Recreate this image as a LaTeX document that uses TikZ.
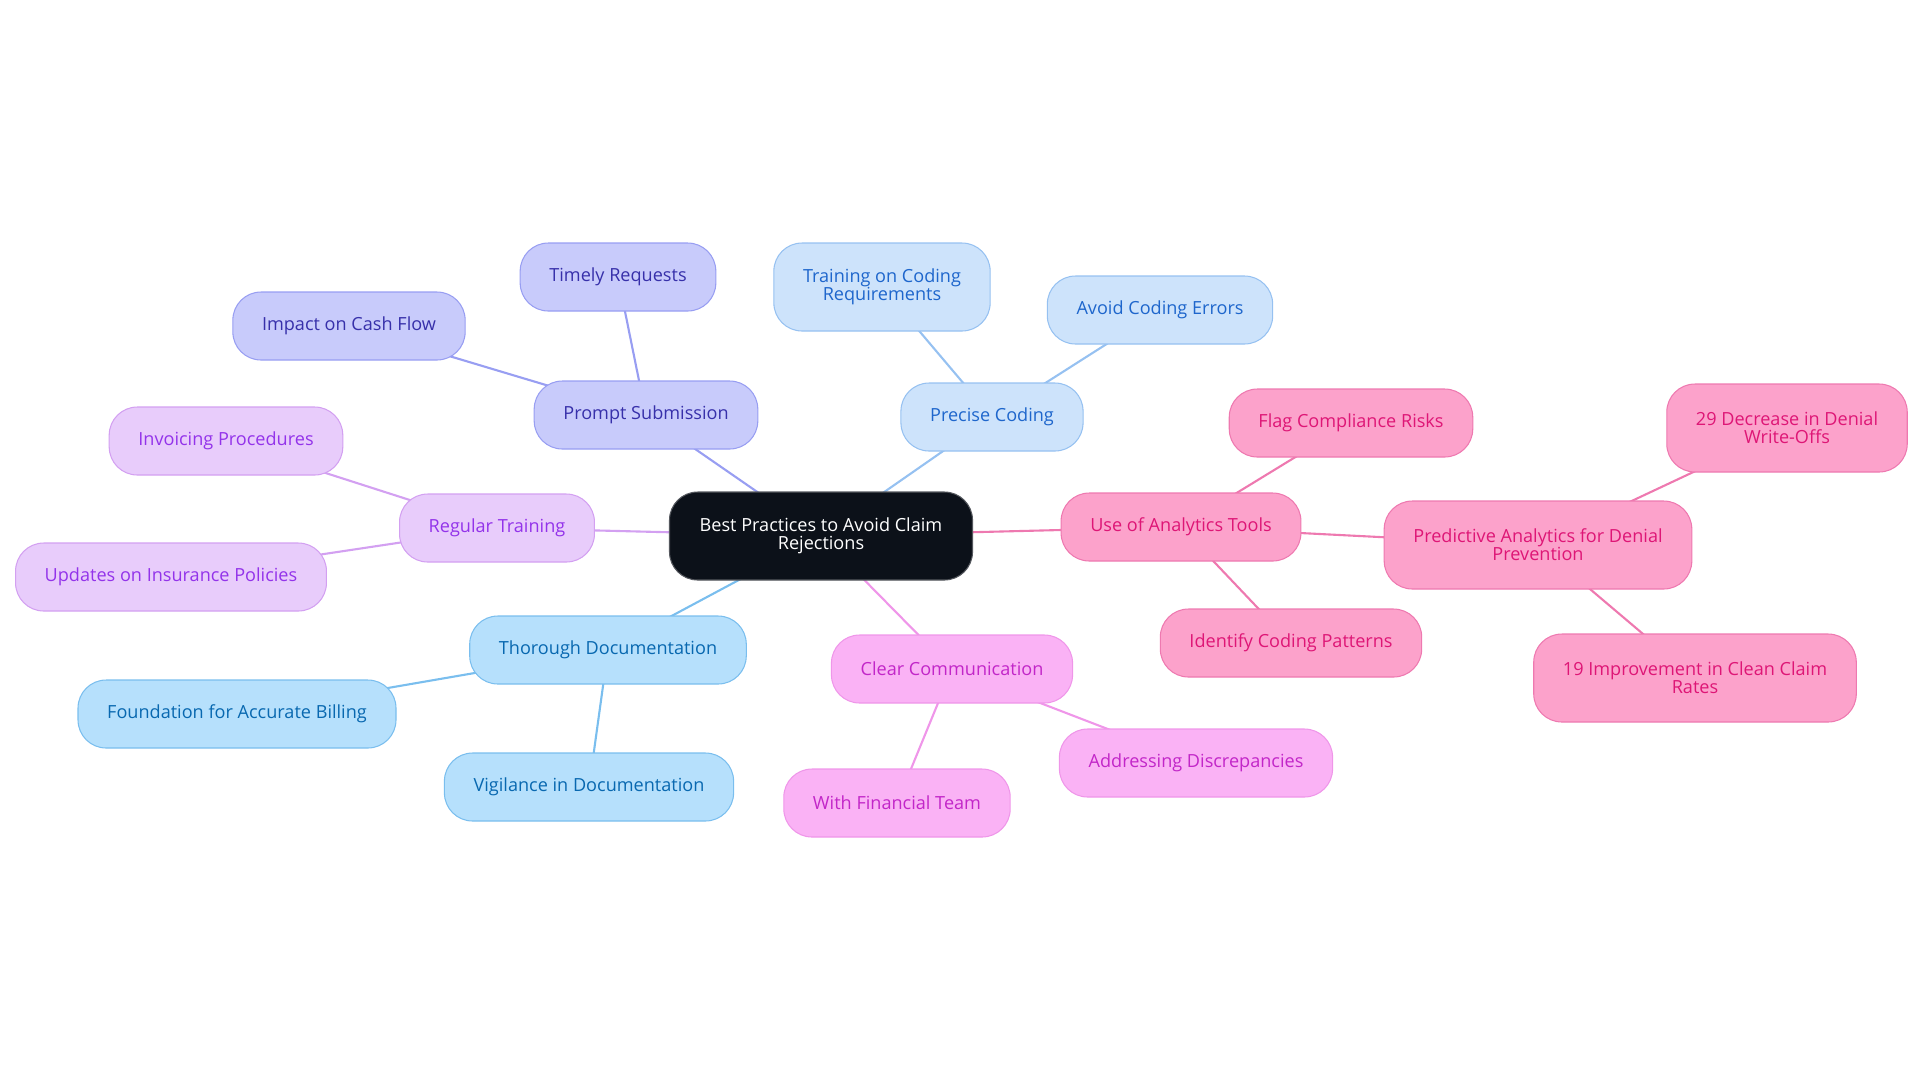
\documentclass[tikz,border=0pt]{standalone}
\usepackage{fontspec}
\setmainfont{Open Sans}
\usepackage{tikz}
\usetikzlibrary{positioning}
\pgfdeclarelayer{back}
\pgfsetlayers{back,main}
\definecolor{rootfill}{RGB}{12,17,25}
\definecolor{indigofill}{RGB}{200,203,251}
\definecolor{indigotext}{RGB}{55,48,170}
\definecolor{indigoline}{RGB}{152,158,242}
\definecolor{bluefill}{RGB}{205,227,251}
\definecolor{bluetext}{RGB}{30,102,204}
\definecolor{blueline}{RGB}{150,193,241}
\definecolor{pinkfill}{RGB}{252,162,203}
\definecolor{pinktext}{RGB}{222,22,118}
\definecolor{pinkline}{RGB}{238,121,176}
\definecolor{fuchsiafill}{RGB}{250,178,245}
\definecolor{fuchsiatext}{RGB}{194,38,200}
\definecolor{fuchsialine}{RGB}{239,150,233}
\definecolor{purplefill}{RGB}{232,204,251}
\definecolor{purpletext}{RGB}{147,51,234}
\definecolor{purpleline}{RGB}{211,160,241}
\definecolor{skyfill}{RGB}{182,224,252}
\definecolor{skytext}{RGB}{8,104,176}
\definecolor{skyline}{RGB}{122,190,238}

\begin{document}
\begin{tikzpicture}[
  x=0.02cm,y=-0.02cm,
  bubble/.style={rectangle,rounded corners=16pt,line width=0.6pt,
    minimum height=1.36cm,inner xsep=16.6pt,align=center,
    font=\fontsize{10.3}{10.4}\selectfont},
  tall/.style={minimum height=1.76cm},
  rootbox/.style={bubble,tall,draw=rootfill!70!white,fill=rootfill,text=white,inner xsep=17.2pt},
  indigo/.style={bubble,draw=indigoline,fill=indigofill,text=indigotext},
  blue/.style={bubble,draw=blueline,fill=bluefill,text=bluetext},
  pink/.style={bubble,draw=pinkline,fill=pinkfill,text=pinktext},
  fuchsia/.style={bubble,draw=fuchsialine,fill=fuchsiafill,text=fuchsiatext},
  lilac/.style={bubble,draw=purpleline,fill=purplefill,text=purpletext},
  sky/.style={bubble,draw=skyline,fill=skyfill,text=skytext},
  link/.style={line width=1.2pt},
]
  \useasboundingbox (0,0) rectangle (1920,1083);
  \node[rootbox] (root) at (821,536) {Best Practices to Avoid Claim\\Rejections};
  % prompt submission
  \node[indigo] (prompt) at (646,415) {Prompt Submission};
  \node[indigo] (timely) at (618,277) {Timely Requests};
  \node[indigo] (cash) at (349,326) {Impact on Cash Flow};
  % precise coding
  \node[blue] (precise) at (992,417) {Precise Coding};
  \node[blue,tall] (training) at (882,287) {Training on Coding\\Requirements};
  \node[blue] (avoid) at (1160,310) {Avoid Coding Errors};
  % analytics
  \node[pink] (analytics) at (1181,527) {Use of Analytics Tools};
  \node[pink] (flag) at (1351,423) {Flag Compliance Risks};
  \node[pink] (identify) at (1291,643) {Identify Coding Patterns};
  \node[pink,tall] (predictive) at (1538,545) {Predictive Analytics for Denial\\Prevention};
  \node[pink,tall] (decrease) at (1787,428) {29 Decrease in Denial\\Write-Offs};
  \node[pink,tall] (improve) at (1695,678) {19 Improvement in Clean Claim\\Rates};
  % communication
  \node[fuchsia] (clear) at (952,669) {Clear Communication};
  \node[fuchsia] (discrep) at (1196,763) {Addressing Discrepancies};
  \node[fuchsia] (financial) at (897,803) {With Financial Team};
  % training
  \node[lilac] (regular) at (497,528) {Regular Training};
  \node[lilac] (invoicing) at (226,441) {Invoicing Procedures};
  \node[lilac] (updates) at (171,577) {Updates on Insurance Policies};
  % documentation
  \node[sky] (thorough) at (608,650) {Thorough Documentation};
  \node[sky] (foundation) at (237,714) {Foundation for Accurate Billing};
  \node[sky] (vigilance) at (589,787) {Vigilance in Documentation};

  % links run centre to centre, behind the bubbles
  \begin{pgfonlayer}{back}
  \foreach \a/\b/\c in {root/prompt/indigoline,prompt/timely/indigoline,prompt/cash/indigoline,
    root/precise/blueline,precise/training/blueline,precise/avoid/blueline,
    root/analytics/pinkline,analytics/flag/pinkline,analytics/identify/pinkline,
    analytics/predictive/pinkline,predictive/decrease/pinkline,predictive/improve/pinkline,
    root/clear/fuchsialine,clear/discrep/fuchsialine,clear/financial/fuchsialine,
    root/regular/purpleline,regular/invoicing/purpleline,regular/updates/purpleline,
    root/thorough/skyline,thorough/foundation/skyline,thorough/vigilance/skyline}
    \draw[link,\c] (\a.center) -- (\b.center);
  \end{pgfonlayer}
\end{tikzpicture}
\end{document}
